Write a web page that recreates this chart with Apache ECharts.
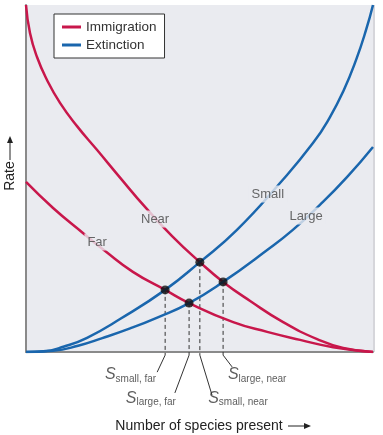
<!DOCTYPE html>
<html><head><meta charset="utf-8">
<script src="https://cdn.jsdelivr.net/npm/echarts/dist/echarts.min.js"></script>
<style>html,body{margin:0;padding:0;background:#fff}#c{width:383px;height:435px}</style>
</head><body><div id="c"></div>
<script>
// Immigration curves (red)
const nearX = [0, 1.15, 3.17, 6.05, 9.8, 14.7, 20.5, 27.4, 34.3, 42.1, 50.1, 56.8, 64.6, 74.1, 83.9, 91.4, 100];
const nearY = [100, 91.9, 85.0, 78.4, 71.8, 65.1, 58.2, 49.9, 41.8, 33.4, 25.9, 20.2, 14.7, 8.6, 3.7, 1.15, 0];
const farX = [0, 7.8, 16.4, 22.8, 30.8, 40.1, 47.0, 59.7, 69.5, 79.0, 88.5, 100];
const farY = [49.0, 41.5, 34.3, 29.1, 23.1, 17.9, 14.1, 8.6, 5.8, 3.5, 1.4, 0];
// Extinction curves (blue)
const smallX = [0, 5, 11, 17.6, 27.1, 40.1, 50.1, 60.8, 73.2, 82.7, 87.6, 91.6, 95.1, 98.0, 100];
const smallY = [0, 0.2, 1.6, 4.1, 9.5, 17.9, 25.9, 35.2, 48.7, 60.2, 67.7, 75.5, 84.1, 92.8, 100];
const largeX = [0, 7.8, 15, 22, 30, 38, 47.0, 56.8, 69.5, 76.9, 84.7, 92.5, 100];
const largeY = [0, 0.35, 1.8, 4.0, 6.8, 10.0, 14.1, 20.2, 29.4, 35.2, 42.4, 50.4, 59.1];
// Curve labels
const curveLabels = ['Near', 'Far', 'Small', 'Large'];
const curveLabelX = [37.2, 20.5, 69.7, 80.7];
const curveLabelY = [38.3, 31.7, 45.5, 39.2];
// Equilibrium points
const eqNames = ['small, far', 'large, far', 'small, near', 'large, near'];
const eqX = [40.1, 47.0, 50.1, 56.8];
const eqY = [17.9, 14.1, 25.9, 20.2];
// Leader lines below the axis
const leadStartY = -0.9;
const leadEndX = [37.8, 42.9, 53.6, 59.4];
const leadEndY = [-5.8, -11.8, -12.4, -4.3];
const eqLabelX = [37.8, 43.5, 52.2, 57.9];
const eqLabelY = [-6.6, -13.3, -13.3, -6.6];
const eqLabelSide = ['left', 'left', 'right', 'right'];

const RED = '#c8174b', BLUE = '#1a66ad', BG = '#eaebf0', FONT = '"Liberation Sans", Arial, sans-serif';
const zip = (a, b) => a.map((v, i) => [v, b[i]]);
const curve = (name, xs, ys, col) => ({name: name, type: 'line', data: zip(xs, ys), smooth: 0.5,
  showSymbol: false, color: col, lineStyle: {width: 2.5, color: col}, z: 2, silent: true});

const series = [
  curve('Immigration', nearX, nearY, RED),
  curve('Immigration', farX, farY, RED),
  curve('Extinction', smallX, smallY, BLUE),
  curve('Extinction', largeX, largeY, BLUE),
  {type: 'scatter', symbolSize: 0, z: 10, silent: true,
   data: curveLabels.map((t, i) => ({value: [curveLabelX[i], curveLabelY[i]], name: t})),
   label: {show: true, position: 'inside', formatter: p => p.name, color: '#444', fontSize: 13, fontFamily: FONT,
           backgroundColor: BG, padding: [2, 3]}}
];
eqX.forEach((x, i) => {
  series.push({type: 'line', data: [[x, eqY[i]], [x, leadStartY]], showSymbol: false, clip: false, silent: true, z: 1,
    lineStyle: {color: '#333', width: 1, type: [4, 3]}});
  series.push({type: 'line', data: [[x, leadStartY], [leadEndX[i], leadEndY[i]]], showSymbol: false, clip: false, silent: true, z: 1,
    lineStyle: {color: '#333', width: 1}});
});
series.push({type: 'scatter', data: zip(eqX, eqY), symbolSize: 9, itemStyle: {color: '#111'}, z: 12, silent: true});
series.push({type: 'scatter', symbolSize: 0, clip: false, silent: true, z: 12,
  data: eqNames.map((n, i) => ({value: [eqLabelX[i], eqLabelY[i]], name: n,
    label: {position: eqLabelSide[i], distance: 1}})),
  label: {show: true, formatter: p => '{s|S}{b|' + p.name + '}', color: '#333', fontFamily: FONT,
    rich: {s: {fontSize: 16, fontStyle: 'italic', color: '#333', fontFamily: FONT, lineHeight: 18, verticalAlign: 'middle'},
           b: {fontSize: 10, color: '#333', fontFamily: FONT, lineHeight: 10, verticalAlign: 'bottom', padding: [6, 0, 0, 0]}}}});

const chart = echarts.init(document.getElementById('c'), null, {renderer: 'canvas'});
chart.setOption({
  animation: false,
  backgroundColor: '#fff',
  grid: {left: 26, right: 10, top: 5, bottom: 83, show: true, backgroundColor: BG, borderWidth: 0},
  xAxis: {type: 'value', min: 0, max: 100, axisLine: {show: true, onZero: false, lineStyle: {color: '#8a8a8a', width: 2}},
          axisTick: {show: false}, axisLabel: {show: false}, splitLine: {show: false}},
  yAxis: {type: 'value', min: 0, max: 100, axisLine: {show: true, onZero: false, lineStyle: {color: '#8a8a8a', width: 2}},
          axisTick: {show: false}, axisLabel: {show: false}, splitLine: {show: false}},
  legend: {orient: 'vertical', left: 54, top: 14, data: ['Immigration', 'Extinction'], icon: 'rect', itemWidth: 19, itemHeight: 3,
           itemGap: 4, padding: [6, 8, 6, 8], borderColor: '#333', borderWidth: 1, backgroundColor: '#fff',
           textStyle: {fontSize: 13.5, color: '#333', fontFamily: FONT}},
  graphic: [
    {type: 'rect', shape: {x: 373, y: 5, width: 2, height: 347}, style: {fill: '#d6d6db'}, z: 0},
    {type: 'text', x: 10, y: 176, rotation: Math.PI / 2, style: {text: 'Rate', fill: '#222', font: '14px ' + FONT, textAlign: 'center', textVerticalAlign: 'middle'}},
    {type: 'line', shape: {x1: 10, y1: 160, x2: 10, y2: 140}, style: {stroke: '#222', lineWidth: 1}},
    {type: 'polygon', shape: {points: [[10, 136], [7, 143], [13, 143]]}, style: {fill: '#222'}},
    {type: 'text', x: 199, y: 426, style: {text: 'Number of species present', fill: '#222', font: '14px ' + FONT, textAlign: 'center', textVerticalAlign: 'middle'}},
    {type: 'line', shape: {x1: 288, y1: 426, x2: 307, y2: 426}, style: {stroke: '#222', lineWidth: 1}},
    {type: 'polygon', shape: {points: [[311, 426], [304, 423], [304, 429]]}, style: {fill: '#222'}}
  ],
  series: series
});
</script></body></html>
